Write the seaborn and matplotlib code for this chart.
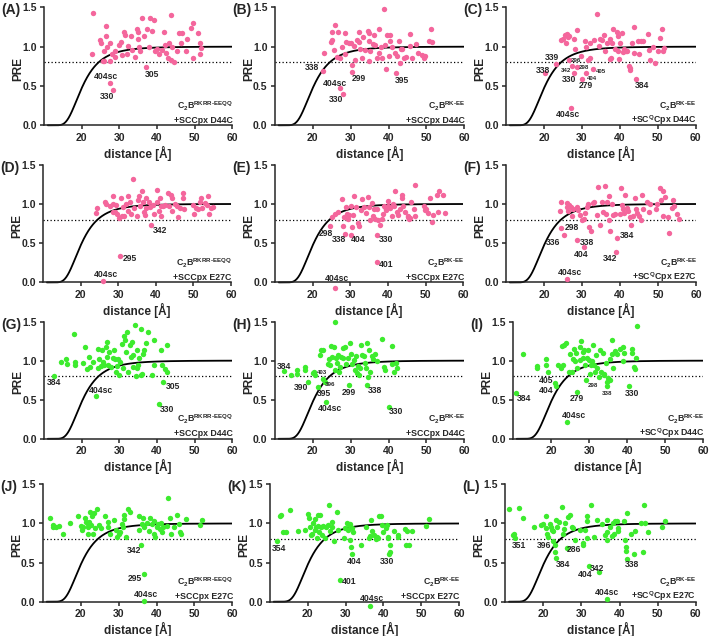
import numpy as np
import pandas as pd
import matplotlib
matplotlib.use("Agg")
import matplotlib.pyplot as plt
import seaborn as sns

# (distance [Å], PRE)
A_POINTS = [(22.7, 0.90), (23.1, 1.43), (24.9, 1.09), (25.2, 1.05), (25.8, 0.94), (25.9, 0.82), (25.6, 0.82),
            (26.5, 1.26), (26.5, 1.13), (26.8, 1.00), (27.6, 1.04), (27.6, 0.82), (27.4, 0.54), (28.3, 0.45),
            (28.0, 0.91), (28.9, 0.94), (28.9, 0.87), (29.8, 1.02), (30.4, 1.06), (31.3, 1.18), (31.6, 1.15),
            (30.7, 0.89), (32.0, 0.91), (32.4, 1.01), (33.0, 1.13), (33.3, 0.96), (34.2, 0.87), (34.7, 1.22),
            (34.9, 1.19), (34.9, 1.10), (35.1, 1.00), (35.6, 0.94), (36.0, 1.37), (36.6, 1.13), (37.1, 0.74),
            (37.3, 1.23), (37.8, 1.00), (38.2, 1.36), (38.7, 1.20), (39.2, 1.34), (39.5, 0.95), (40.0, 0.97),
            (40.6, 0.91), (41.2, 0.96), (41.9, 1.19), (42.2, 1.02), (42.5, 0.92), (42.8, 0.85), (43.1, 1.05),
            (43.6, 0.83), (43.7, 1.40), (44.0, 1.00), (44.4, 0.81), (45.2, 0.94), (45.8, 1.17), (46.7, 1.17),
            (46.5, 1.05), (47.6, 0.95), (48.0, 1.10), (49.1, 1.24), (49.6, 1.30), (49.5, 0.86), (50.8, 1.17),
            (51.4, 1.04), (51.4, 0.91), (51.6, 0.98)]
B_POINTS = [(22.6, 0.69), (23.1, 0.92), (24.9, 1.06), (25.2, 1.09), (25.0, 1.19), (25.8, 1.27), (25.6, 0.96),
            (26.4, 0.87), (26.6, 1.18), (27.3, 0.85), (27.3, 0.47), (28.1, 0.40), (27.7, 0.99), (28.6, 1.17),
            (28.8, 1.06), (28.6, 0.90), (29.5, 1.04), (30.2, 1.04), (30.5, 0.77), (30.5, 0.68), (30.8, 1.01),
            (31.2, 0.83), (31.7, 1.09), (32.1, 1.18), (32.3, 1.06), (32.6, 0.97), (33.0, 0.86), (33.3, 1.12),
            (33.9, 0.96), (34.6, 1.20), (34.8, 1.17), (34.8, 1.07), (34.8, 0.82), (35.2, 0.94), (35.8, 1.03),
            (36.1, 1.15), (36.5, 1.02), (37.0, 0.85), (37.4, 1.23), (37.6, 0.92), (37.9, 1.00), (38.3, 0.85),
            (38.8, 1.48), (39.0, 1.02), (39.4, 0.72), (39.6, 1.15), (40.1, 0.88), (40.5, 1.07), (40.5, 1.15),
            (40.8, 1.00), (41.7, 0.92), (41.9, 0.66), (42.3, 0.88), (42.7, 1.07), (43.0, 0.79), (43.2, 0.97),
            (43.6, 0.97), (44.1, 0.85), (44.7, 0.87), (45.6, 1.01), (45.8, 1.16), (46.3, 0.85), (47.2, 1.03),
            (47.9, 0.92), (48.9, 0.89), (49.4, 0.85), (49.6, 0.88), (50.7, 1.07), (51.2, 1.22), (51.4, 1.06)]
C_POINTS = [(20.3, 0.66), (23.2, 0.78), (24.4, 1.09), (25.0, 1.10), (25.5, 1.15), (25.8, 1.05), (26.0, 1.16),
            (26.2, 1.12), (26.7, 1.14), (26.5, 0.83), (27.5, 0.76), (27.9, 1.10), (27.9, 0.66), (28.2, 0.97),
            (28.6, 0.74), (28.8, 1.21), (29.7, 0.88), (29.9, 0.59), (30.8, 1.07), (31.1, 1.00), (31.1, 0.67),
            (31.7, 0.83), (32.2, 1.05), (32.2, 0.85), (32.9, 0.71), (33.2, 1.09), (34.1, 1.42), (34.4, 1.01),
            (34.8, 1.10), (35.2, 1.08), (35.7, 1.15), (36.1, 0.94), (36.6, 1.04), (37.3, 0.84), (37.4, 1.10),
            (37.6, 0.86), (38.0, 1.04), (38.1, 1.22), (38.7, 0.97), (39.2, 1.19), (39.4, 1.14), (39.6, 0.94),
            (39.9, 0.84), (40.1, 1.05), (40.5, 1.17), (40.8, 0.93), (41.1, 0.97), (41.7, 0.94), (42.0, 0.94),
            (42.3, 0.75), (42.6, 0.70), (42.6, 0.73), (43.2, 1.04), (43.6, 1.25), (43.6, 0.92), (44.3, 0.59),
            (44.7, 1.07), (45.0, 0.90), (45.6, 1.07), (46.1, 1.07), (47.3, 1.16), (47.6, 0.96), (48.0, 0.83),
            (48.7, 0.99), (49.3, 0.79), (50.0, 0.95), (50.7, 1.11), (51.1, 1.23), (51.4, 0.94), (51.6, 0.98),
            (27.0, 0.22)]
D_POINTS = [(24.1, 0.88), (24.4, 0.95), (26.5, 1.03), (26.7, 1.00), (27.8, 0.97), (28.5, 1.10), (28.5, 0.90),
            (28.7, 1.00), (29.1, 0.90), (29.4, 0.99), (29.7, 0.87), (30.3, 0.82), (30.4, 0.34), (30.6, 1.07),
            (30.9, 0.85), (31.3, 0.96), (31.5, 0.84), (32.0, 1.00), (32.7, 1.10), (32.7, 0.91), (33.1, 1.03),
            (33.3, 0.87), (34.0, 1.32), (34.2, 0.95), (34.9, 0.85), (35.3, 1.05), (35.6, 1.10), (35.8, 0.97),
            (36.2, 1.17), (36.5, 1.03), (36.8, 0.90), (37.1, 0.86), (37.3, 1.07), (37.5, 0.95), (38.2, 1.03),
            (38.4, 0.96), (38.8, 0.73), (39.3, 0.99), (39.5, 0.87), (40.2, 1.18), (40.4, 1.02), (40.9, 0.91),
            (41.1, 1.08), (41.3, 0.97), (41.5, 0.85), (42.0, 0.97), (42.4, 0.99), (43.3, 1.14), (43.6, 0.97),
            (43.9, 1.12), (44.2, 1.08), (44.4, 0.91), (45.0, 1.00), (45.5, 0.97), (45.9, 0.83), (46.4, 0.95),
            (47.1, 1.08), (47.3, 1.14), (47.4, 0.93), (49.9, 0.99), (50.2, 0.87), (50.8, 0.95), (51.2, 0.93),
            (51.7, 1.03), (52.1, 1.07), (52.4, 0.95), (53.0, 1.01), (53.5, 0.99), (54.0, 1.10), (54.2, 0.87),
            (54.8, 0.95), (55.2, 0.96), (26.0, 0.02)]
E_POINTS = [(24.6, 0.72), (25.0, 0.83), (25.9, 0.87), (26.6, 0.90), (27.9, 1.06), (28.1, 0.72), (28.4, 0.83),
            (28.6, 0.62), (28.8, 0.96), (29.1, 0.87), (29.5, 0.81), (29.6, 0.86), (30.2, 0.97), (30.2, 0.61),
            (30.5, 0.70), (30.8, 0.86), (31.1, 1.10), (31.5, 0.96), (31.9, 0.76), (32.3, 0.72), (32.8, 0.92),
            (33.0, 1.06), (33.5, 0.96), (34.1, 0.89), (34.8, 1.09), (35.0, 0.96), (35.2, 0.79), (35.7, 1.01),
            (36.1, 0.85), (36.4, 0.94), (36.5, 0.81), (37.0, 0.60), (37.0, 0.26), (37.2, 0.93), (37.4, 0.79),
            (37.9, 0.73), (38.3, 0.81), (38.8, 0.87), (39.0, 0.97), (39.3, 0.96), (39.6, 0.92), (39.9, 1.04),
            (40.1, 0.98), (40.5, 0.95), (41.0, 0.85), (41.4, 1.00), (41.7, 0.97), (41.9, 1.16), (42.3, 0.90),
            (42.7, 0.86), (43.2, 0.94), (43.6, 1.12), (43.8, 1.07), (44.1, 0.98), (44.5, 0.90), (45.2, 0.84),
            (45.4, 0.83), (45.6, 0.81), (45.9, 0.82), (46.1, 1.02), (47.2, 1.24), (47.0, 0.94), (47.2, 0.84),
            (49.6, 0.97), (49.8, 0.92), (50.2, 0.94), (50.7, 0.89), (51.2, 1.07), (51.6, 0.77), (52.0, 0.86),
            (52.9, 1.11), (53.4, 0.90), (53.5, 1.17), (54.7, 1.11), (55.1, 0.89), (25.9, -0.07)]
F_POINTS = [(24.2, 0.91), (24.4, 1.02), (24.6, 0.69), (25.3, 0.61), (26.0, 1.01), (26.1, 0.96), (26.4, 0.91),
            (26.7, 0.99), (27.0, 0.96), (27.3, 0.84), (27.7, 0.94), (28.6, 0.54), (28.8, 0.96), (29.0, 0.92),
            (29.5, 0.86), (29.9, 0.80), (30.4, 0.45), (30.5, 0.81), (30.8, 0.88), (31.2, 0.96), (31.7, 1.00),
            (31.9, 0.70), (32.3, 0.65), (32.8, 1.01), (33.2, 1.03), (33.9, 0.86), (34.3, 1.22), (34.7, 0.73),
            (35.2, 1.03), (35.6, 0.90), (36.0, 1.23), (36.3, 0.87), (36.7, 1.03), (37.2, 1.10), (37.2, 0.79),
            (37.4, 0.65), (37.8, 1.00), (38.2, 0.86), (38.6, 0.87), (38.9, 0.39), (39.3, 0.57), (40.0, 0.87),
            (40.2, 1.20), (40.4, 0.99), (40.7, 0.93), (41.0, 0.88), (41.3, 1.11), (41.8, 0.95), (42.2, 0.91),
            (42.5, 0.83), (42.8, 0.73), (43.3, 0.84), (43.9, 1.08), (44.2, 0.93), (44.6, 0.89), (45.1, 0.85),
            (45.4, 0.79), (45.7, 1.12), (46.1, 0.94), (47.0, 1.02), (47.5, 0.90), (47.9, 1.00), (49.6, 0.94),
            (49.8, 1.00), (50.5, 1.20), (50.9, 1.05), (51.4, 1.17), (51.4, 0.85), (51.8, 1.09), (52.5, 0.83),
            (53.0, 0.63), (53.6, 0.95), (53.9, 1.05), (54.1, 0.98), (54.9, 0.87), (55.4, 0.81), (26.0, 0.04)]
G_POINTS = [(12.7, 0.80), (14.5, 0.98), (15.8, 1.02), (16.0, 0.96), (18.0, 1.34), (18.2, 0.98), (18.2, 0.94),
            (20.4, 0.97), (20.9, 1.18), (21.5, 0.89), (22.0, 1.04), (22.2, 0.92), (22.9, 0.98), (24.2, 1.15),
            (24.4, 0.90), (24.7, 1.02), (23.7, 0.55), (25.0, 0.93), (25.3, 1.14), (25.6, 0.98), (25.9, 0.94),
            (26.5, 1.17), (26.6, 1.04), (26.8, 1.24), (27.1, 0.95), (27.3, 1.11), (27.7, 0.92), (28.2, 1.03),
            (28.6, 1.14), (28.8, 1.02), (29.1, 0.86), (29.5, 0.93), (29.7, 1.02), (30.0, 0.82), (30.2, 0.98),
            (30.6, 1.21), (30.9, 0.90), (31.2, 1.31), (31.5, 1.26), (31.8, 1.11), (32.1, 1.37), (32.4, 0.86),
            (32.8, 1.20), (33.0, 1.04), (33.3, 1.24), (33.5, 0.92), (33.7, 1.07), (34.2, 1.45), (34.4, 0.80),
            (34.6, 0.90), (34.8, 1.13), (35.0, 0.94), (35.3, 1.03), (35.7, 1.41), (35.7, 0.82), (36.0, 0.83),
            (36.2, 1.08), (36.5, 1.13), (37.1, 1.23), (37.7, 1.37), (38.8, 0.82), (39.2, 1.26), (39.2, 0.94),
            (40.4, 0.45), (41.0, 1.13), (41.2, 0.94), (41.7, 0.73), (42.1, 0.89), (42.6, 1.20), (42.7, 0.86)]
H_POINTS = [(12.5, 0.87), (14.4, 0.81), (15.8, 0.88), (15.8, 0.83), (18.0, 0.92), (18.0, 0.88), (18.7, 0.72),
            (20.2, 0.84), (20.4, 0.86), (20.6, 0.81), (21.3, 0.66), (21.9, 1.07), (22.3, 1.14), (22.8, 1.14),
            (22.6, 0.77), (23.3, 0.72), (23.5, 0.47), (24.0, 0.96), (24.2, 1.02), (24.6, 0.94), (24.9, 1.19),
            (25.2, 1.05), (25.5, 1.17), (25.8, 1.49), (25.9, 0.88), (26.1, 1.03), (26.4, 0.97), (26.8, 1.07),
            (27.0, 0.86), (27.3, 0.92), (27.5, 1.05), (27.9, 1.16), (28.1, 1.03), (28.4, 1.18), (28.8, 0.96),
            (29.3, 1.03), (29.6, 0.69), (29.9, 1.23), (30.2, 1.09), (30.4, 0.96), (30.8, 1.01), (31.1, 0.88),
            (31.4, 1.06), (31.7, 0.84), (32.0, 0.93), (32.3, 0.81), (32.6, 0.90), (32.8, 1.20), (33.0, 1.07),
            (33.5, 1.06), (33.9, 0.97), (34.1, 0.91), (34.3, 1.22), (34.3, 0.69), (34.6, 0.79), (34.8, 1.14),
            (35.2, 0.86), (35.7, 1.06), (35.8, 1.02), (36.5, 1.09), (37.0, 1.00), (38.3, 1.27), (38.8, 0.92),
            (39.0, 0.88), (40.1, 0.41), (40.8, 1.19), (41.0, 0.96), (41.4, 0.86), (41.9, 0.97), (42.3, 0.90)]
I_POINTS = [(10.8, 0.59), (12.6, 1.08), (16.4, 0.93), (16.4, 0.90), (18.7, 1.02), (18.8, 0.95), (19.3, 0.86),
            (21.1, 0.71), (21.3, 0.68), (21.9, 0.95), (22.5, 0.91), (22.8, 1.19), (23.1, 0.95), (23.4, 1.20),
            (23.9, 1.22), (24.3, 0.21), (24.8, 0.86), (25.0, 1.08), (25.4, 0.86), (25.7, 1.02), (26.1, 1.15),
            (26.3, 0.99), (26.6, 1.10), (26.9, 0.60), (26.9, 0.90), (27.5, 1.17), (27.6, 1.01), (27.8, 1.25),
            (28.3, 1.11), (28.5, 1.03), (28.7, 1.13), (28.9, 0.95), (29.2, 0.75), (29.4, 1.03), (29.8, 1.14),
            (30.1, 1.01), (30.3, 0.83), (30.4, 0.95), (30.7, 0.99), (31.0, 1.20), (31.3, 0.95), (31.6, 0.86),
            (31.8, 1.07), (32.0, 0.91), (32.5, 0.79), (32.9, 1.13), (33.1, 0.86), (33.6, 1.10), (33.8, 0.83),
            (34.0, 0.82), (34.5, 0.97), (34.6, 0.72), (34.8, 0.68), (35.1, 0.78), (35.4, 1.02), (35.5, 0.75),
            (36.0, 1.26), (36.0, 1.08), (36.4, 0.91), (36.8, 1.12), (37.3, 1.08), (38.2, 1.15), (38.9, 1.17),
            (39.0, 0.99), (39.2, 1.10), (40.4, 0.67), (41.2, 1.15), (41.2, 1.10), (41.8, 0.92), (42.1, 0.89),
            (42.4, 1.03), (42.7, 1.44)]
J_POINTS = [(11.9, 1.07), (12.6, 0.98), (12.8, 0.95), (13.5, 0.96), (14.3, 0.97), (15.2, 0.87), (17.3, 1.01),
            (19.4, 1.10), (20.0, 0.97), (20.3, 0.92), (20.7, 0.95), (21.2, 1.07), (21.5, 1.02), (21.8, 0.87),
            (21.9, 0.96), (22.0, 0.99), (22.3, 1.02), (22.5, 1.15), (22.7, 0.98), (23.0, 1.10), (23.2, 0.87),
            (23.4, 1.13), (23.8, 0.94), (24.4, 1.19), (24.7, 0.98), (25.3, 0.94), (26.5, 1.09), (27.1, 0.95),
            (27.3, 1.02), (27.6, 0.86), (28.7, 1.04), (29.4, 0.92), (29.7, 0.83), (30.0, 0.86), (30.3, 0.89),
            (30.9, 0.99), (31.2, 0.96), (31.3, 1.11), (31.5, 1.06), (32.0, 0.83), (32.4, 1.18), (32.9, 1.15),
            (35.3, 1.10), (35.5, 0.92), (35.8, 0.73), (36.2, 0.99), (36.5, 1.07), (36.6, 0.35), (36.6, 0.01),
            (36.8, 0.96), (37.5, 1.00), (37.9, 0.90), (38.4, 1.07), (38.8, 0.99), (39.3, 1.03), (39.4, 0.86),
            (39.7, 0.83), (40.0, 0.96), (40.4, 0.99), (40.9, 0.93), (41.2, 1.01), (41.5, 0.89), (41.8, 0.96),
            (42.7, 0.97), (43.0, 1.33), (43.5, 1.07), (43.9, 0.86), (44.6, 0.95), (45.5, 1.11), (46.0, 0.99),
            (46.2, 0.89), (46.5, 0.87), (47.7, 1.06), (51.4, 0.98), (52.1, 1.04)]
K_POINTS = [(11.8, 0.77), (12.7, 1.09), (13.0, 1.11), (13.6, 0.89), (14.2, 0.89), (15.3, 1.17), (17.5, 0.90),
            (19.3, 0.92), (20.2, 1.12), (20.4, 1.07), (20.6, 0.95), (20.9, 0.85), (21.2, 0.87), (21.5, 1.00),
            (21.8, 1.06), (21.9, 0.92), (22.1, 0.96), (22.4, 0.81), (22.6, 0.97), (22.8, 1.11), (23.0, 0.89),
            (23.3, 1.11), (23.5, 0.96), (23.9, 0.85), (24.1, 0.97), (24.6, 0.82), (24.8, 0.96), (25.3, 0.98),
            (25.5, 1.24), (25.9, 0.90), (26.3, 0.96), (26.5, 1.02), (27.0, 0.78), (27.7, 1.15), (27.9, 0.92),
            (28.5, 0.28), (29.7, 0.82), (29.9, 0.94), (30.3, 1.00), (30.6, 0.92), (30.9, 0.98), (31.2, 0.99),
            (31.2, 0.79), (31.5, 0.70), (31.8, 0.61), (31.8, 0.94), (32.1, 0.89), (34.1, 0.72), (35.3, 0.96),
            (36.2, 0.81), (36.5, 0.84), (36.7, 1.04), (36.9, 0.90), (36.5, -0.06), (37.6, 0.85), (38.0, 0.80),
            (38.2, 0.83), (38.7, 0.81), (38.8, 1.09), (39.4, 1.10), (39.6, 0.98), (40.0, 0.89), (40.6, 0.94),
            (40.9, 0.98), (41.1, 0.83), (41.3, 0.81), (41.5, 0.61), (41.8, 0.72), (41.8, 0.63), (42.9, 0.90),
            (43.8, 0.85), (44.0, 0.83), (45.7, 0.93), (46.2, 0.90), (45.9, 0.73), (46.8, 0.72), (47.7, 0.90),
            (51.2, 0.97), (52.1, 1.06)]
L_POINTS = [(11.1, 1.18), (12.0, 0.85), (12.2, 0.87), (12.7, 0.82), (13.6, 1.20), (14.6, 1.07), (17.5, 0.95),
            (19.3, 0.98), (19.8, 0.99), (20.7, 1.10), (20.7, 0.94), (21.1, 0.86), (21.3, 0.83), (21.8, 0.99),
            (21.9, 0.96), (22.2, 0.92), (22.5, 0.90), (22.6, 0.77), (23.1, 0.72), (23.1, 0.63), (23.3, 0.56),
            (23.3, 1.04), (23.7, 0.95), (24.2, 1.02), (24.8, 1.21), (25.1, 0.87), (25.4, 0.93), (25.7, 1.01),
            (26.3, 0.68), (26.6, 1.08), (27.0, 1.11), (27.5, 0.95), (27.9, 0.94), (28.3, 0.79), (29.6, 0.92),
            (30.4, 0.75), (30.5, 0.72), (31.0, 0.92), (31.4, 1.10), (31.6, 1.03), (31.6, 0.82), (32.1, 0.45),
            (32.5, 1.24), (33.2, 0.83), (34.0, 1.04), (34.5, 0.38), (35.4, 0.99), (36.2, 0.85), (36.7, 0.89),
            (36.7, 0.79), (36.8, 1.04), (36.8, 0.03), (37.5, 0.96), (38.0, 0.84), (38.2, 1.00), (38.6, 0.87),
            (38.8, 1.03), (39.3, 1.03), (39.5, 0.94), (39.7, 0.90), (41.2, 1.03), (41.5, 0.79), (41.8, 0.70),
            (41.8, 0.65), (42.0, 0.55), (42.0, 1.13), (43.0, 0.86), (43.7, 0.61), (44.1, 0.90), (45.6, 1.00),
            (46.1, 0.63), (46.3, 1.24), (46.8, 1.01), (47.6, 0.89), (51.1, 0.95), (52.0, 1.03)]

# residue labels: (text, distance, PRE)
A_LABELS = [("404sc", 26.5, 0.62), ("330", 26.7, 0.36), ("305", 38.8, 0.65)]
B_LABELS = [("338", 19.9, 0.73), ("404sc", 25.8, 0.53), ("330", 26.1, 0.33), ("299", 32.3, 0.59), ("395", 43.6, 0.57)]
C_LABELS = [("339", 22.0, 0.86), ("338", 19.6, 0.70), ("330", 26.7, 0.58), ("279", 31.1, 0.50),
            ("384", 45.8, 0.51), ("404sc", 26.4, 0.14)]
C_SMALL = [("296", 28.5, 0.83), ("342", 25.8, 0.70), ("298", 30.4, 0.73), ("405", 35.0, 0.69), ("404", 32.6, 0.60)]
D_LABELS = [("342", 41.2, 0.66), ("295", 33.1, 0.31), ("404sc", 26.7, 0.10)]
E_LABELS = [("298", 23.5, 0.62), ("338", 27.0, 0.55), ("404", 32.1, 0.55), ("330", 39.4, 0.55),
            ("401", 39.6, 0.23), ("404sc", 26.4, 0.05)]
F_LABELS = [("298", 27.3, 0.70), ("336", 22.3, 0.51), ("338", 31.4, 0.51), ("404", 29.9, 0.36),
            ("342", 37.5, 0.30), ("384", 41.8, 0.60), ("404sc", 26.8, 0.12)]
G_LABELS = [("384", 12.7, 0.72), ("404sc", 25.0, 0.62), ("305", 44.3, 0.67), ("330", 42.6, 0.38)]
H_LABELS = [("384", 12.5, 0.93), ("390", 16.9, 0.65), ("395", 23.1, 0.58), ("299", 29.6, 0.59),
            ("338", 36.5, 0.62), ("404sc", 24.6, 0.39), ("330", 42.0, 0.35)]
H_SMALL = [("403", 22.6, 0.85), ("396", 24.6, 0.70)]
I_LABELS = [("405", 18.7, 0.75), ("404", 18.7, 0.62), ("384", 13.0, 0.51), ("279", 26.9, 0.51),
            ("330", 41.2, 0.58), ("404sc", 26.1, 0.30)]
I_SMALL = [("298", 31.0, 0.68), ("338", 34.8, 0.58)]
J_LABELS = [("342", 34.0, 0.65), ("295", 34.2, 0.30), ("404sc", 37.1, 0.09)]
K_LABELS = [("354", 12.4, 0.68), ("404", 32.3, 0.52), ("330", 40.9, 0.52), ("401", 30.9, 0.26), ("404sc", 36.9, 0.04)]
L_LABELS = [("351", 13.7, 0.72), ("396", 20.2, 0.72), ("286", 28.1, 0.67), ("384", 25.1, 0.47),
            ("404", 31.0, 0.35), ("342", 34.2, 0.43), ("338", 43.2, 0.47), ("404sc", 36.8, 0.12)]

CONSTRUCTS = ["RKRR\\text{-}EEQQ", "RK\\text{-}EE", "RK\\text{-}EE"]
PARTNERS = ["SCCpx", "SCCpx", "SC$^Q$Cpx"]
MUTANTS = ["D44C", "E27C", "D44C", "E27C"]

# theoretical PRE curve exp(-k / r^6) and the 0.8 cut-off
CURVE_K = 4.8e7
CUTOFF = 0.8

PINK = "#F4669C"
GREEN = "#3DEB2E"

sns.set_style("ticks")
plt.rcParams["font.family"] = ["Liberation Sans", "DejaVu Sans"]
plt.rcParams.update({
    "font.weight": "bold",
    "mathtext.fontset": "custom",
    "mathtext.rm": "Liberation Sans:bold",
    "mathtext.default": "regular",
    "axes.linewidth": 1.1,
})

W, H = 709, 636
# pixel x of the 20 and 60 ticks per panel, pixel y of 1.5 and 0.0 per row
X_TICK_PX = [(81.7, 232.3), (312.7, 464.3), (544.0, 695.7),
             (80.7, 231.0), (312.7, 463.3), (544.0, 696.0),
             (81.7, 232.3), (312.7, 464.3), (551.0, 703.3),
             (80.7, 232.3), (307.7, 459.0), (543.3, 695.7)]
ROW_PX = [(7.3, 125.3), (164.7, 282.4), (321.5, 438.8), (484.3, 601.7)]
XMIN, YMIN = 10, -0.1

panels = [
    ("A", A_POINTS, A_LABELS, [], PINK),
    ("B", B_POINTS, B_LABELS, [], PINK),
    ("C", C_POINTS, C_LABELS, C_SMALL, PINK),
    ("D", D_POINTS, D_LABELS, [], PINK),
    ("E", E_POINTS, E_LABELS, [], PINK),
    ("F", F_POINTS, F_LABELS, [], PINK),
    ("G", G_POINTS, G_LABELS, [], GREEN),
    ("H", H_POINTS, H_LABELS, H_SMALL, GREEN),
    ("I", I_POINTS, I_LABELS, I_SMALL, GREEN),
    ("J", J_POINTS, J_LABELS, [], GREEN),
    ("K", K_POINTS, K_LABELS, [], GREEN),
    ("L", L_POINTS, L_LABELS, [], GREEN),
]

fig = plt.figure(figsize=(W / 100, H / 100), dpi=100)
r_grid = np.linspace(11, 60, 400)
pre_curve = np.exp(-CURVE_K / r_grid ** 6)

for i, (letter, points, labels, small, color) in enumerate(panels):
    row, col = divmod(i, 3)
    x20, x60 = X_TICK_PX[i]
    top, zero = ROW_PX[row]
    ppx = (x60 - x20) / 40
    ppy = (zero - top) / 1.5
    left = x20 - (20 - XMIN) * ppx
    bottom = zero - YMIN * ppy
    ax = fig.add_axes([left / W, 1 - bottom / H, (x60 - left) / W, (bottom - top) / H])

    df = pd.DataFrame(points, columns=["distance", "PRE"])
    sns.scatterplot(data=df, x="distance", y="PRE", color=color, s=15, linewidth=0,
                    ax=ax, clip_on=False, zorder=3, legend=False)
    ax.plot(r_grid, pre_curve, color="black", lw=1.3, zorder=2)
    ax.plot([XMIN, 60], [CUTOFF, CUTOFF], color="black", lw=0.9, ls=(0, (1, 1.8)), zorder=1)

    ax.set_xlim(XMIN, 60)
    ax.set_ylim(YMIN, 1.5)
    ax.set_xticks([20, 30, 40, 50, 60])
    ax.set_yticks([0, 0.5, 1.0, 1.5])
    ax.set_yticklabels(["0.0", "0.5", "1.0", "1.5"])
    ax.tick_params(length=3, width=1.1, labelsize=7.5, pad=2.2)
    sns.despine(ax=ax)
    ax.spines["bottom"].set_position(("data", 0))
    ax.spines["left"].set_bounds(0, 1.5)
    ax.set_xlabel("")
    ax.set_ylabel("")

    for text, x, y in labels:
        ax.text(x, y, text, fontsize=6.2, ha="center", va="center")
    for text, x, y in small:
        ax.text(x, y, text, fontsize=4.4, ha="center", va="center")

    ax.text(60.2, 0.205, "C$_2$B$^{%s}$" % CONSTRUCTS[col], fontsize=6.3, ha="right", va="baseline")
    ax.text(60.2, 0.03, "+%s %s" % (PARTNERS[col], MUTANTS[row]), fontsize=6.3, ha="right", va="baseline")

    fig.text((left - 26) / W, 1 - (zero - 0.72 * ppy) / H, "PRE", rotation=90,
             fontsize=8.5, ha="center", va="center")
    fig.text((left + x60) / 2 / W, 1 - (zero + 27.7) / H, "distance [Å]",
             fontsize=8.5, ha="center", va="center")
    fig.text((left - 43) / W, 1 - (top + 3) / H, "(%s)" % letter,
             fontsize=10, ha="left", va="center")

fig.savefig("out.png", dpi=100)
